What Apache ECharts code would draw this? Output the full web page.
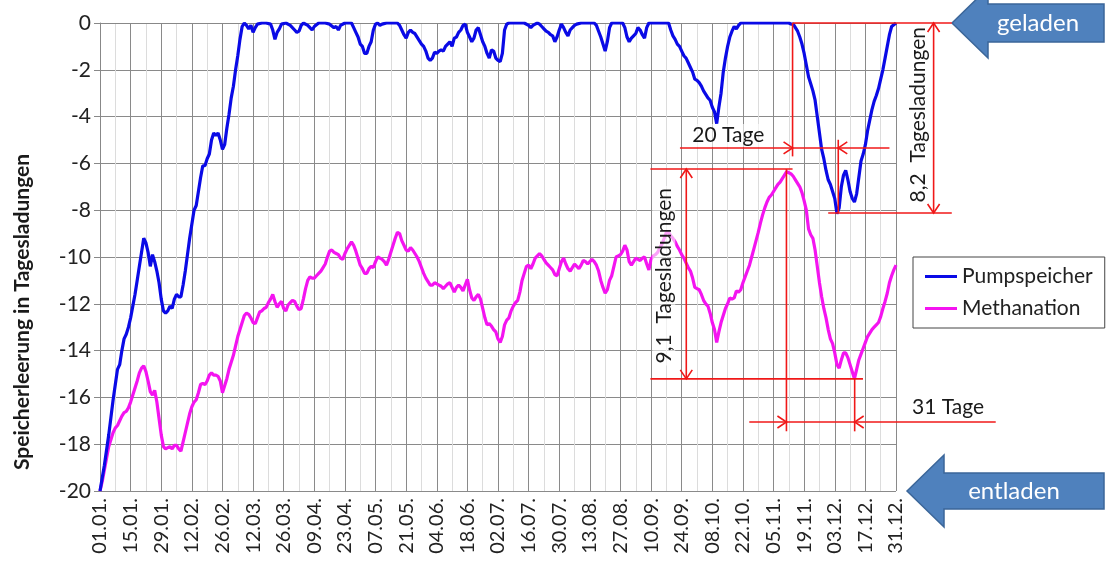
<!DOCTYPE html>
<html><head><meta charset="utf-8">
<script src="https://cdn.jsdelivr.net/npm/echarts@6/dist/echarts.min.js"></script>
<style>html,body{margin:0;padding:0;background:#fff}#c{width:1108px;height:569px}</style>
</head><body><div id="c"></div>
<script>
const tickLabels = ['01.01.','15.01.','29.01.','12.02.','26.02.','12.03.','26.03.','09.04.','23.04.','07.05.','21.05.','04.06.','18.06.','02.07.','16.07.','30.07.','13.08.','27.08.','10.09.','24.09.','08.10.','22.10.','05.11.','19.11.','03.12.','17.12.','31.12.'];
const yTitle = 'Speicherleerung in Tagesladungen';
const seriesNames = ['Pumpspeicher','Methanation'];

const pumpDays = [0,2,4,6,8,9,10,11,12,13,14,15,16,17,18,19,20,21,22,23,24,25,26,27,28,29,30,31,32,33,34,35,36,37,38,39,40,41,42,43,44,45,46,47,48,49,50,51,52,53,54,55,56,57,58,59,60,61,62,63,64,65,66,67,68,69,70,71,72,74,76,78,79,80,81,82,83,85,87,89,90,91,92,93,95,96,97,98,100,103,105,107,108,109,110,112,115,116,117,118,119,120,121,122,123,124,125,126,127,128,129,131,134,136,137,138,139,140,141,142,143,144,145,146,147,148,149,150,151,152,153,154,155,156,157,158,159,160,161,162,163,164,165,166,167,168,169,170,171,172,173,174,175,176,177,178,179,180,181,182,183,184,185,186,187,190,194,196,197,198,199,200,201,202,203,204,205,206,207,208,209,210,211,212,213,214,215,216,217,218,220,226,227,228,229,230,231,232,233,234,239,240,241,242,243,244,245,246,247,248,249,250,251,252,260,261,262,263,264,265,266,267,268,269,270,271,272,273,274,275,276,277,278,279,280,281,282,283,284,285,286,287,288,289,290,291,292,293,315,316,317,318,319,320,321,322,323,324,325,326,327,328,329,330,331,332,333,334,335,336,337,338,339,340,341,342,343,344,345,346,347,348,349,350,351,352,353,354,355,356,357,358,359,360,361,362,364];
const pumpVals = [-20,-18.9,-17.6,-16.1,-14.8,-14.6,-14.0,-13.5,-13.3,-13.0,-12.6,-12.1,-11.6,-11.0,-10.4,-9.8,-9.2,-9.4,-9.8,-10.4,-9.9,-10.2,-10.6,-11.1,-11.8,-12.3,-12.4,-12.3,-12.1,-12.2,-11.8,-11.6,-11.7,-11.7,-11.2,-10.6,-9.9,-9.2,-8.6,-8.0,-7.8,-7.2,-6.6,-6.1,-6.1,-5.8,-5.6,-5.0,-4.7,-4.8,-4.7,-5.0,-5.4,-5.2,-4.5,-3.9,-3.2,-2.7,-2.0,-1.4,-0.7,-0.15,0,-0.1,-0.25,-0.1,-0.4,-0.2,-0.05,0,0,-0.05,-0.3,-0.7,-0.4,-0.25,-0.05,0,-0.1,-0.3,-0.4,-0.35,-0.1,0,-0.1,-0.2,-0.3,-0.15,0,0,-0.05,-0.2,-0.15,-0.3,-0.1,0,0,-0.2,-0.4,-0.6,-0.9,-1.0,-1.3,-1.3,-1.0,-0.8,-0.3,-0.05,0,-0.1,-0.05,0,0,0,-0.1,-0.3,-0.5,-0.65,-0.4,-0.3,-0.4,-0.45,-0.6,-0.75,-0.9,-1.0,-1.2,-1.5,-1.6,-1.5,-1.25,-1.3,-1.2,-1.15,-1.2,-1.0,-0.9,-0.8,-1.0,-0.65,-0.6,-0.4,-0.3,-0.1,-0.05,-0.4,-0.6,-0.8,-0.65,-0.3,-0.2,-0.5,-0.8,-1.0,-1.3,-1.5,-1.15,-1.2,-1.5,-1.6,-1.65,-1.3,-0.3,-0.05,0,0,0,-0.1,-0.2,-0.1,-0.05,0,-0.05,-0.15,-0.25,-0.35,-0.4,-0.5,-0.55,-0.8,-0.6,-0.3,-0.05,-0.2,-0.4,-0.55,-0.3,-0.2,-0.1,-0.05,0,0,-0.1,-0.35,-0.6,-0.9,-1.2,-0.8,-0.2,0,0,-0.2,-0.6,-0.8,-0.65,-0.55,-0.45,-0.2,-0.3,-0.5,-0.65,-0.2,0,0,0,-0.3,-0.55,-0.7,-0.9,-1.0,-1.2,-1.4,-1.5,-1.7,-1.9,-2.1,-2.4,-2.45,-2.55,-2.7,-2.9,-3.05,-3.2,-3.3,-3.6,-3.8,-4.3,-3.6,-3.0,-2.1,-1.5,-1.0,-0.6,-0.35,-0.15,-0.25,-0.1,0,0,-0.05,-0.05,-0.2,-0.35,-0.6,-0.9,-1.3,-1.8,-2.3,-2.6,-2.9,-3.3,-4.0,-4.7,-5.4,-5.8,-6.3,-6.7,-6.9,-7.2,-7.5,-8.15,-7.9,-7.0,-6.5,-6.3,-6.7,-7.2,-7.5,-7.65,-7.3,-6.6,-5.9,-5.6,-5.2,-4.6,-4.15,-3.7,-3.35,-3.1,-2.8,-2.4,-2.0,-1.5,-1.0,-0.5,-0.15,0,0];

const methDays = [0,1,2,3,4,5,6,7,8,9,10,11,12,13,14,15,16,17,18,19,20,21,22,23,24,25,26,27,28,29,30,31,32,33,34,35,36,37,38,39,40,41,42,43,44,45,46,47,48,49,50,51,52,53,54,55,56,57,58,59,60,61,62,63,64,65,66,67,68,69,70,71,72,73,74,75,76,77,78,79,80,81,82,83,84,85,86,87,88,89,90,91,92,93,94,95,96,97,98,99,100,101,102,103,104,105,106,107,108,109,110,111,112,113,114,115,116,117,118,119,120,121,122,123,124,125,126,127,128,129,130,131,132,133,134,135,136,137,138,139,140,141,142,143,144,145,146,147,148,149,150,151,152,153,154,155,156,157,158,159,160,161,162,163,164,165,166,167,168,169,170,171,172,173,174,175,176,177,178,179,180,181,182,183,184,185,186,187,188,189,190,191,192,193,194,195,196,197,198,199,200,201,202,203,204,205,206,207,208,209,210,211,212,213,214,215,216,217,218,219,220,221,222,223,224,225,226,227,228,229,230,231,232,233,234,235,236,237,238,239,240,241,242,243,244,245,246,247,248,249,250,251,252,253,254,255,256,257,258,259,260,261,262,263,264,265,266,267,268,269,270,271,272,273,274,275,276,277,278,279,280,281,282,283,284,285,286,287,288,289,290,291,292,293,294,295,296,297,298,299,300,301,302,303,304,305,306,307,308,309,310,311,312,313,314,315,316,317,318,319,320,321,322,323,324,325,326,327,328,329,330,331,332,333,334,335,336,337,338,339,340,341,342,343,344,345,346,347,348,349,350,351,352,353,354,355,356,357,358,359,360,361,362,363,364];
const methVals = [-20,-19.6,-19.1,-18.6,-18.1,-17.8,-17.5,-17.3,-17.2,-17.0,-16.8,-16.65,-16.6,-16.45,-16.2,-15.9,-15.6,-15.3,-14.95,-14.75,-14.65,-14.9,-15.3,-15.75,-15.9,-15.7,-16.2,-16.9,-17.6,-18.1,-18.2,-18.15,-18.1,-18.2,-18.05,-18.05,-18.2,-18.3,-17.9,-17.5,-17.1,-16.7,-16.4,-16.2,-16.1,-15.8,-15.45,-15.4,-15.45,-15.3,-15.05,-14.95,-15.05,-15.05,-15.1,-15.3,-15.8,-15.5,-15.2,-14.8,-14.5,-14.2,-13.8,-13.4,-13.1,-12.8,-12.5,-12.4,-12.45,-12.6,-12.8,-12.85,-12.6,-12.35,-12.3,-12.2,-12.15,-11.95,-11.8,-11.6,-11.9,-12.15,-12.0,-11.9,-12.2,-12.3,-12.05,-11.95,-11.85,-11.9,-12.1,-12.25,-12.2,-11.8,-11.35,-11.0,-10.85,-10.9,-10.9,-10.8,-10.7,-10.6,-10.45,-10.3,-10.0,-9.75,-9.7,-9.8,-9.85,-9.9,-10.05,-10.1,-9.85,-9.65,-9.5,-9.35,-9.5,-9.75,-10.05,-10.35,-10.5,-10.7,-10.7,-10.5,-10.4,-10.45,-10.2,-10.0,-10.05,-10.1,-10.2,-10.35,-10.1,-9.8,-9.5,-9.2,-8.95,-9.0,-9.3,-9.5,-9.7,-9.75,-9.6,-9.7,-9.85,-10.0,-10.2,-10.45,-10.7,-10.9,-11.05,-11.2,-11.2,-11.1,-11.15,-11.2,-11.25,-11.35,-11.25,-11.15,-11.1,-11.3,-11.5,-11.3,-11.2,-11.3,-11.45,-11.2,-10.95,-11.4,-11.75,-11.85,-11.7,-11.6,-11.8,-12.2,-12.6,-12.9,-12.85,-12.95,-13.1,-13.2,-13.5,-13.65,-13.4,-12.9,-12.7,-12.6,-12.3,-12.1,-11.95,-11.85,-11.5,-11.0,-10.7,-10.4,-10.35,-10.5,-10.3,-10.05,-9.95,-9.85,-9.95,-10.1,-10.25,-10.35,-10.45,-10.55,-10.75,-10.8,-10.5,-10.2,-10.05,-10.3,-10.5,-10.6,-10.45,-10.3,-10.4,-10.5,-10.35,-10.15,-10.2,-10.3,-10.2,-10.1,-10.2,-10.35,-10.6,-11.0,-11.3,-11.55,-11.4,-11.0,-10.8,-10.4,-10.0,-9.95,-9.9,-9.75,-9.5,-9.7,-10.2,-10.35,-10.2,-10.05,-10.1,-10.15,-10.05,-10.0,-10.3,-10.55,-10.1,-9.95,-9.9,-9.8,-9.6,-9.45,-9.2,-8.95,-8.95,-9.1,-9.2,-9.35,-9.55,-9.7,-9.9,-10.05,-10.25,-10.45,-10.6,-10.9,-11.3,-11.35,-11.4,-11.6,-11.85,-12.0,-12.1,-12.4,-12.8,-13.1,-13.65,-13.2,-12.8,-12.5,-12.2,-12.0,-11.75,-11.8,-11.75,-11.45,-11.5,-11.4,-11.1,-10.85,-10.6,-10.35,-10.0,-9.65,-9.3,-8.95,-8.55,-8.2,-7.9,-7.65,-7.45,-7.35,-7.2,-7.05,-6.9,-6.8,-6.65,-6.5,-6.35,-6.4,-6.45,-6.55,-6.7,-6.85,-7.0,-7.25,-7.6,-8.0,-8.8,-9.05,-9.2,-9.7,-10.4,-11.1,-11.7,-12.2,-12.6,-13.1,-13.5,-13.7,-14.1,-14.6,-14.75,-14.4,-14.1,-14.1,-14.3,-14.6,-14.9,-15.2,-14.8,-14.4,-14.15,-13.9,-13.65,-13.4,-13.25,-13.1,-13.0,-12.9,-12.8,-12.55,-12.2,-11.9,-11.55,-11.1,-10.8,-10.55,-10.35];

// annotation geometry in data units: [day1, value1, day2, value2]
const annotSegments = [
  [316.7, 0, 389.5, 0],
  [316.7, 0, 316.7, -5.7],
  [265.2, -5.34, 361, -5.34],
  [337.6, -4.99, 337.6, -8.12],
  [333, -8.12, 389.5, -8.12],
  [381.2, 0, 381.2, -8.12],
  [251.7, -6.24, 316.7, -6.24],
  [268.1, -6.24, 268.1, -15.21],
  [251.7, -15.21, 348.9, -15.21],
  [313.9, -6.24, 313.9, -17.45],
  [296.9, -17.05, 409.6, -17.05],
  [345.1, -15.21, 345.1, -17.45]
];
const annotArrows = [
  [316.7, -5.34, 'right'], [337.6, -5.34, 'left'],
  [381.2, 0, 'up'], [381.2, -8.12, 'down'],
  [268.1, -6.24, 'up'], [268.1, -15.21, 'down'],
  [313.9, -17.05, 'right'], [345.1, -17.05, 'left']
];
const annotTexts = [
  [287.3, -4.81, '20 Tage', 0],
  [387.8, -16.44, '31 Tage', 0],
  [257.8, -10.8, '9,1  Tagesladungen', 90],
  [374, -3.92, '8,2  Tagesladungen', 90]
];
const stateLabels = ['geladen', 'entladen'];

const FONT = 'Lato';
const chart = echarts.init(document.getElementById('c'), null, {renderer: 'canvas'});
const zip = (d, v) => d.map((x, i) => [x, v[i]]);

chart.setOption({
  animation: false,
  backgroundColor: '#fff',
  textStyle: {fontFamily: FONT},
  grid: {left: 100, right: 212, top: 23, bottom: 78, containLabel: false},
  legend: {
    left: 913, top: 257, orient: 'vertical',
    borderColor: '#444', borderWidth: 1, borderRadius: 0,
    padding: [9, 12, 9, 12], itemGap: 11,
    itemWidth: 32, itemHeight: 3, icon: 'rect',
    textStyle: {fontSize: 21, color: '#222', fontFamily: FONT},
    data: seriesNames
  },
  xAxis: {
    type: 'value', min: 0, max: 364, interval: 14,
    axisLine: {show: true, lineStyle: {color: '#888', width: 1}},
    axisTick: {show: true, length: 5, lineStyle: {color: '#888'}},
    axisLabel: {
      rotate: 90, fontSize: 20, color: '#222', margin: 7, fontFamily: FONT,
      formatter: v => tickLabels[Math.round(v / 14)] || ''
    },
    splitLine: {show: true, lineStyle: {color: '#8a8a8a', width: 1}},
    minorTick: {show: false, splitNumber: 2},
    minorSplitLine: {show: true, lineStyle: {color: '#dcdcdc', width: 1}}
  },
  yAxis: {
    type: 'value', min: -20, max: 0, interval: 2,
    axisLine: {show: true, lineStyle: {color: '#888', width: 1}},
    axisTick: {show: true, length: 6, lineStyle: {color: '#888'}},
    axisLabel: {fontSize: 21, color: '#222', margin: 9, fontFamily: FONT},
    splitLine: {show: true, lineStyle: {color: '#8a8a8a', width: 1}}
  },
  series: [
    {name: seriesNames[0], type: 'line', data: zip(pumpDays, pumpVals), showSymbol: false, symbol: 'none',
     lineStyle: {color: '#0a0ae6', width: 3.2}, itemStyle: {color: '#0a0ae6'}, z: 3},
    {name: seriesNames[1], type: 'line', data: zip(methDays, methVals), showSymbol: false, symbol: 'none',
     lineStyle: {color: '#f414f0', width: 3.2}, itemStyle: {color: '#f414f0'}, z: 2}
  ]
});

const px = (d, v) => chart.convertToPixel({gridIndex: 0}, [d, v]);
const RED = '#f01818';
const g = [];
annotSegments.forEach(s => {
  const a = px(s[0], s[1]), b = px(s[2], s[3]);
  g.push({type: 'line', z: 50, shape: {x1: a[0], y1: a[1], x2: b[0], y2: b[1]}, style: {stroke: RED, lineWidth: 1.6}});
});
annotArrows.forEach(a => {
  const p = px(a[0], a[1]);
  const L = 9, W = 6;
  let pts;
  if (a[2] === 'right') pts = [[p[0] - L, p[1] - W], p, [p[0] - L, p[1] + W]];
  if (a[2] === 'left') pts = [[p[0] + L, p[1] - W], p, [p[0] + L, p[1] + W]];
  if (a[2] === 'up') pts = [[p[0] - W, p[1] + L], p, [p[0] + W, p[1] + L]];
  if (a[2] === 'down') pts = [[p[0] - W, p[1] - L], p, [p[0] + W, p[1] - L]];
  g.push({type: 'polyline', z: 51, shape: {points: pts}, style: {stroke: RED, lineWidth: 1.6, fill: null}});
});
annotTexts.forEach(t => {
  const p = px(t[0], t[1]);
  g.push({type: 'text', z: 45, x: p[0], y: p[1], rotation: t[3] ? Math.PI / 2 : 0,
    style: {text: t[2], fontSize: 21, fontFamily: FONT, fill: '#1a1a1a', align: 'center', verticalAlign: 'middle',
      backgroundColor: 'rgba(255,255,255,0.6)', padding: [1, 2]}});
});
// state arrows
const top0 = px(389.5, 0), bot0 = px(0, -20);
const ty = top0[1];
g.push({type: 'polygon', z: 40, shape: {points: [[952, ty], [988, ty - 35], [988, ty - 19], [1104, ty - 19], [1104, ty + 19], [988, ty + 19], [988, ty + 35]]},
  style: {fill: '#4f81bd', stroke: '#3b6699', lineWidth: 1.5}});
g.push({type: 'text', z: 41, x: 1038, y: ty, style: {text: stateLabels[0], fontSize: 24, fontFamily: FONT, fill: '#fff', align: 'center', verticalAlign: 'middle'}});
const by = bot0[1];
g.push({type: 'polygon', z: 40, shape: {points: [[907, by], [944, by - 36], [944, by - 18], [1104, by - 18], [1104, by + 18], [944, by + 18], [944, by + 36]]},
  style: {fill: '#4f81bd', stroke: '#3b6699', lineWidth: 1.5}});
g.push({type: 'text', z: 41, x: 1014, y: by, style: {text: stateLabels[1], fontSize: 24, fontFamily: FONT, fill: '#fff', align: 'center', verticalAlign: 'middle'}});
// y axis title
g.push({type: 'text', z: 40, x: 22, y: 312, rotation: Math.PI / 2,
  style: {text: yTitle, fontSize: 21, fontWeight: 'bold', fontFamily: FONT, fill: '#1a1a1a', align: 'center', verticalAlign: 'middle'}});
chart.setOption({graphic: g});
</script></body></html>
